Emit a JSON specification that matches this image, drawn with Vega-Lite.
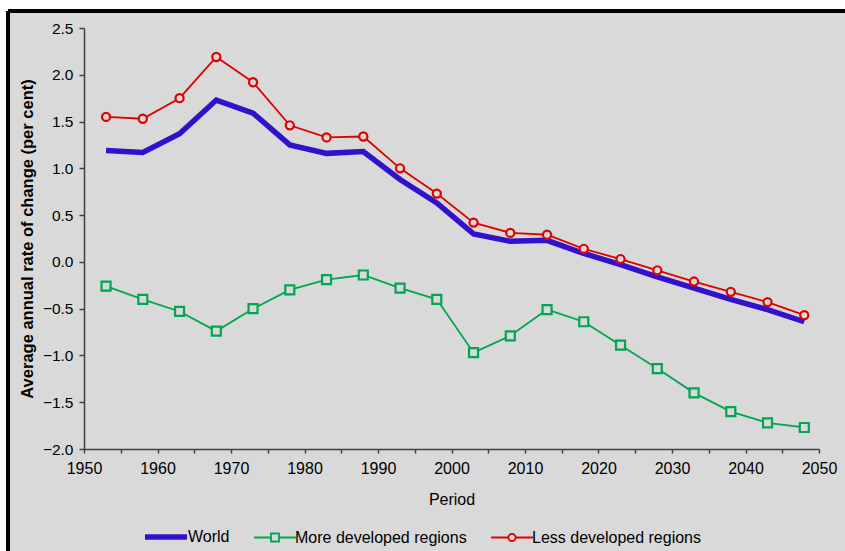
{
  "$schema": "https://vega.github.io/schema/vega-lite/v6.json",
  "width": 837,
  "height": 540,
  "autosize": "none",
  "padding": {"left": 8, "top": 11, "right": 0, "bottom": 0},
  "background": "#ffffff",
  "config": {
    "view": {"fill": "#d9d9d9", "stroke": "#000000", "strokeWidth": 4, "strokeDash": [837, 1377, 540, 0]},
    "font": "Liberation Sans",
    "axis": {"grid": false, "domainColor": "#404040", "domainWidth": 1.5, "tickColor": "#404040", "tickWidth": 1.5, "labelColor": "#000000", "titleColor": "#000000", "labelFont": "Liberation Sans", "titleFont": "Liberation Sans"}
  },
  "data": {"values": [
    {"year": 1953, "series": "World", "value": 1.19},
    {"year": 1958, "series": "World", "value": 1.17},
    {"year": 1963, "series": "World", "value": 1.37},
    {"year": 1968, "series": "World", "value": 1.73},
    {"year": 1973, "series": "World", "value": 1.59},
    {"year": 1978, "series": "World", "value": 1.25},
    {"year": 1983, "series": "World", "value": 1.16},
    {"year": 1988, "series": "World", "value": 1.18},
    {"year": 1993, "series": "World", "value": 0.88},
    {"year": 1998, "series": "World", "value": 0.63},
    {"year": 2003, "series": "World", "value": 0.30},
    {"year": 2008, "series": "World", "value": 0.22},
    {"year": 2013, "series": "World", "value": 0.23},
    {"year": 2018, "series": "World", "value": 0.09},
    {"year": 2023, "series": "World", "value": -0.03},
    {"year": 2028, "series": "World", "value": -0.16},
    {"year": 2033, "series": "World", "value": -0.28},
    {"year": 2038, "series": "World", "value": -0.40},
    {"year": 2043, "series": "World", "value": -0.51},
    {"year": 2048, "series": "World", "value": -0.64},
    {"year": 1953, "series": "More developed regions", "value": -0.26},
    {"year": 1958, "series": "More developed regions", "value": -0.40},
    {"year": 1963, "series": "More developed regions", "value": -0.53},
    {"year": 1968, "series": "More developed regions", "value": -0.74},
    {"year": 1973, "series": "More developed regions", "value": -0.50},
    {"year": 1978, "series": "More developed regions", "value": -0.30},
    {"year": 1983, "series": "More developed regions", "value": -0.19},
    {"year": 1988, "series": "More developed regions", "value": -0.14},
    {"year": 1993, "series": "More developed regions", "value": -0.28},
    {"year": 1998, "series": "More developed regions", "value": -0.40},
    {"year": 2003, "series": "More developed regions", "value": -0.97},
    {"year": 2008, "series": "More developed regions", "value": -0.79},
    {"year": 2013, "series": "More developed regions", "value": -0.51},
    {"year": 2018, "series": "More developed regions", "value": -0.64},
    {"year": 2023, "series": "More developed regions", "value": -0.89},
    {"year": 2028, "series": "More developed regions", "value": -1.14},
    {"year": 2033, "series": "More developed regions", "value": -1.40},
    {"year": 2038, "series": "More developed regions", "value": -1.60},
    {"year": 2043, "series": "More developed regions", "value": -1.72},
    {"year": 2048, "series": "More developed regions", "value": -1.77},
    {"year": 1953, "series": "Less developed regions", "value": 1.55},
    {"year": 1958, "series": "Less developed regions", "value": 1.53},
    {"year": 1963, "series": "Less developed regions", "value": 1.75},
    {"year": 1968, "series": "Less developed regions", "value": 2.19},
    {"year": 1973, "series": "Less developed regions", "value": 1.92},
    {"year": 1978, "series": "Less developed regions", "value": 1.46},
    {"year": 1983, "series": "Less developed regions", "value": 1.33},
    {"year": 1988, "series": "Less developed regions", "value": 1.34},
    {"year": 1993, "series": "Less developed regions", "value": 1.00},
    {"year": 1998, "series": "Less developed regions", "value": 0.73},
    {"year": 2003, "series": "Less developed regions", "value": 0.42},
    {"year": 2008, "series": "Less developed regions", "value": 0.31},
    {"year": 2013, "series": "Less developed regions", "value": 0.29},
    {"year": 2018, "series": "Less developed regions", "value": 0.14},
    {"year": 2023, "series": "Less developed regions", "value": 0.03},
    {"year": 2028, "series": "Less developed regions", "value": -0.09},
    {"year": 2033, "series": "Less developed regions", "value": -0.21},
    {"year": 2038, "series": "Less developed regions", "value": -0.32},
    {"year": 2043, "series": "Less developed regions", "value": -0.43},
    {"year": 2048, "series": "Less developed regions", "value": -0.57}
  ]},
  "encoding": {
    "x": {
      "field": "year", "type": "quantitative",
      "scale": {"domain": [1950, 2050], "nice": false, "zero": false, "range": [76, 811]},
      "axis": {
        "title": "Period", "offset": -102, "format": "d",
        "values": [1950,1955,1960,1965,1970,1975,1980,1985,1990,1995,2000,2005,2010,2015,2020,2025,2030,2035,2040,2045,2050],
        "labelExpr": "datum.value % 10 === 0 ? datum.label : ''",
        "labelOverlap": false, "labelFlush": false,
        "tickSize": 4, "labelPadding": 7, "labelFontSize": 16,
        "titleFontSize": 16, "titleFontWeight": "normal", "titlePadding": 15
      }
    },
    "y": {
      "field": "value", "type": "quantitative",
      "scale": {"domain": [-2, 2.5], "nice": false, "zero": false, "range": [438, 17]},
      "axis": {
        "title": "Average annual rate of change (per cent)", "offset": -76, "format": ".1f",
        "values": [-2, -1.5, -1, -0.5, 0, 0.5, 1, 1.5, 2, 2.5],
        "tickSize": 5, "labelPadding": 6, "labelFontSize": 15.5,
        "titleFontSize": 16.5, "titleFontWeight": "bold", "titlePadding": 7
      }
    }
  },
  "layer": [
    {
      "mark": {"type": "line"},
      "encoding": {
        "color": {
          "field": "series", "type": "nominal",
          "scale": {"domain": ["World", "More developed regions", "Less developed regions"], "range": ["#3311cc", "#00a650", "#e00000"]},
          "legend": {
            "title": null, "orient": "none", "legendX": 134, "legendY": 502, "direction": "horizontal",
            "labelFontSize": 16, "labelFont": "Liberation Sans", "labelColor": "#000000", "labelLimit": 400,
            "symbolSize": 1764, "labelOffset": -2, "columnPadding": 20,
            "encode": {
              "symbols": {
                "update": {
                  "shape": {"signal": "datum.value === 'World' ? 'M-1,0H1' : (datum.value === 'More developed regions' ? 'M-1,0H-0.19M0.19,0H1M-0.19,-0.19H0.19V0.19H-0.19Z' : 'M-1,0H-0.17M0.17,0H1M-0.17,0A0.17,0.17 0 1,0 0.17,0A0.17,0.17 0 1,0 -0.17,0Z')"},
                  "strokeWidth": {"signal": "datum.value === 'World' ? 5 : 1.5"},
                  "fill": {"value": "#d9d9d9"},
                  "fillOpacity": {"value": 1},
                  "opacity": {"value": 1}
                }
              }
            }
          }
        },
        "strokeWidth": {
          "field": "series", "type": "nominal",
          "scale": {"type": "ordinal", "domain": ["World", "More developed regions", "Less developed regions"], "range": [5.5, 1.8, 1.8]},
          "legend": null
        }
      }
    },
    {
      "transform": [{"filter": "datum.series !== 'World'"}],
      "mark": {"type": "point", "filled": true, "fill": "#d9d9d9", "fillOpacity": 1, "opacity": 1, "strokeWidth": 2.2},
      "encoding": {
        "stroke": {
          "field": "series", "type": "nominal",
          "scale": {"domain": ["More developed regions", "Less developed regions"], "range": ["#00a650", "#e00000"]},
          "legend": null
        },
        "shape": {
          "field": "series", "type": "nominal",
          "scale": {"domain": ["More developed regions", "Less developed regions"], "range": ["square", "circle"]},
          "legend": null
        },
        "size": {
          "field": "series", "type": "nominal",
          "scale": {"type": "ordinal", "domain": ["More developed regions", "Less developed regions"], "range": [81, 66]},
          "legend": null
        }
      }
    }
  ]
}
